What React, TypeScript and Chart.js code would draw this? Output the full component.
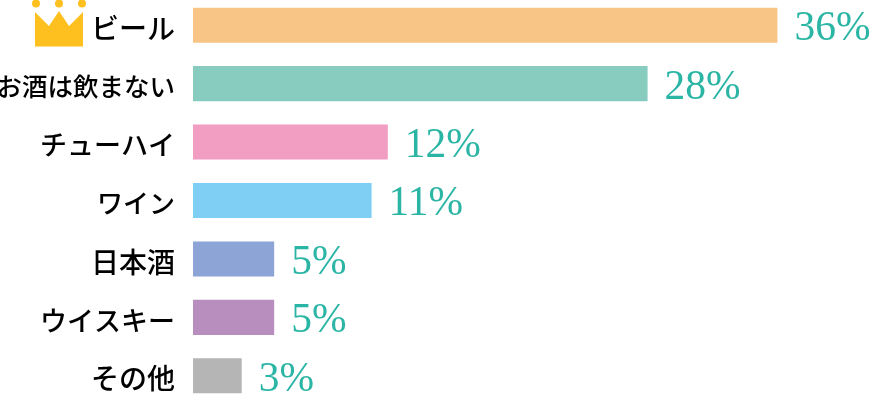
import React, { useEffect, useRef } from "react";
import { Chart, registerables } from "chart.js";
Chart.register(...registerables);

const categories = ["ビール", "お酒は飲まない", "チューハイ", "ワイン", "日本酒", "ウイスキー", "その他"];
const values = [36, 28, 12, 11, 5, 5, 3];
const valueLabels = ["36%", "28%", "12%", "11%", "5%", "5%", "3%"];
const colors = ["#F9C586", "#88CCBF", "#F29EC2", "#7FCEF4", "#8CA5D6", "#B88EBE", "#B5B5B6"];
const tickFontSizes = [28, 25.5, 27, 26, 28, 27, 28];

const labelPlugin = {
  id: "valueLabels",
  afterDatasetsDraw(chart: any) {
    const ctx = chart.ctx;
    const meta = chart.getDatasetMeta(0);
    ctx.save();
    ctx.font = '41.5px "Liberation Serif"';
    ctx.fillStyle = "#2BB5A5";
    ctx.textBaseline = "middle";
    ctx.textAlign = "left";
    meta.data.forEach((bar: any, i: number) => {
      ctx.fillText(valueLabels[i], bar.x + 17, bar.y + 4);
    });
    ctx.restore();
  },
};

const crownPlugin = {
  id: "crown",
  afterDraw(chart: any) {
    const ctx = chart.ctx;
    ctx.save();
    ctx.translate(0, 4);
    ctx.fillStyle = "#FDC01E";
    ctx.beginPath();
    ctx.moveTo(35, 12);
    ctx.lineTo(49, 26);
    ctx.lineTo(59, 11);
    ctx.lineTo(69, 26);
    ctx.lineTo(83, 12);
    ctx.lineTo(83, 46.5);
    ctx.lineTo(35, 46.5);
    ctx.closePath();
    ctx.fill();
    for (const [x, y] of [[36, 3.5], [59, 3.5], [82, 3.5]]) {
      ctx.beginPath();
      ctx.arc(x, y, 4, 0, Math.PI * 2);
      ctx.fill();
    }
    ctx.restore();
  },
};

export default function App() {
  const ref = useRef<HTMLCanvasElement>(null);
  useEffect(() => {
    const chart = new Chart(ref.current!, {
      type: "bar",
      data: {
        labels: categories,
        datasets: [{ data: values, backgroundColor: colors, borderWidth: 0, categoryPercentage: 0.6, barPercentage: 1 }],
      },
      options: {
        indexAxis: "y",
        animation: false,
        responsive: false,
        layout: { padding: 0 },
        plugins: { legend: { display: false }, tooltip: { enabled: false } },
        scales: {
          x: { display: false, min: 0, max: 41.7 },
          y: {
            grid: { display: false, drawTicks: false },
            border: { display: false },
            afterFit(s: any) {
              s.width = 193;
              s.paddingTop = 0;
              s.paddingBottom = 0;
            },
            ticks: {
              color: "#000",
              padding: 18,
              labelOffset: 3,
              autoSkip: false,
              font: (c: any) => ({ family: '"Noto Sans CJK JP"', size: tickFontSizes[c.index] ?? 26, weight: 500 }),
            },
          },
        },
      },
      plugins: [labelPlugin, crownPlugin],
    } as any);
    return () => chart.destroy();
  }, []);
  return (
    <div style={{ position: "fixed", left: 0, top: 0, width: 870, height: 394, overflow: "hidden" }}>
      <canvas ref={ref} width={870} height={409} style={{ display: "block", position: "absolute", left: 0, top: -4 }} />
    </div>
  );
}
